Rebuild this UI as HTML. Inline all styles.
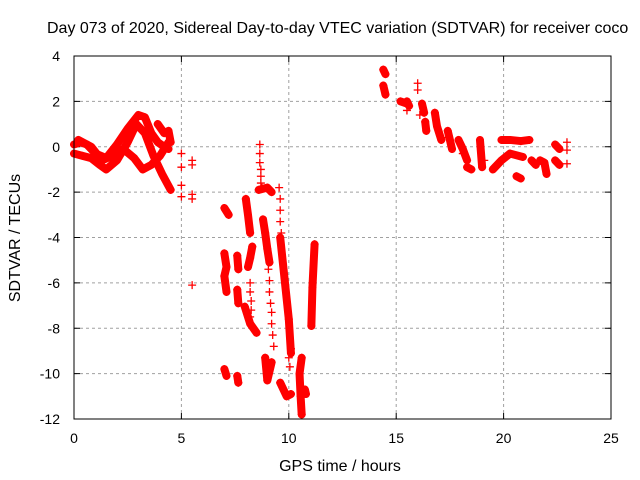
<!DOCTYPE html>
<html><head><meta charset="utf-8"><style>
body{margin:0;background:#fff}
svg{display:block;font-family:"Liberation Sans",sans-serif}
</style></head><body>
<svg id="chart" width="640" height="480">
<rect width="640" height="480" fill="#fff"/>
<text x="47" y="33" font-size="16" fill="#000">Day 073 of 2020, Sidereal Day-to-day VTEC variation (SDTVAR) for receiver coco</text>
<g id="grid"></g>
<g id="ticks"></g>
<g id="marks"></g>
<rect x="74" y="56" width="537" height="363" fill="none" stroke="#000"/>
<text x="340" y="471" font-size="16" text-anchor="middle">GPS time / hours</text>
<text transform="translate(20,238) rotate(-90)" font-size="16" text-anchor="middle">SDTVAR / TECUs</text>
</svg>
<script>
const xTicks=[0,5,10,15,20,25];
const yTicks=[4,2,0,-2,-4,-6,-8,-10,-12];
// dense tracks: hours / values
const denseHours=[
[0,0.3,0.6,1,1.5,2,2.5,3,3.3,3.6,3.9,4.2,4.4],
[0,0.4,0.8,1.2,1.5,2,2.5,2.9,3.3,3.7,4.1,4.5],
[0.2,0.8,1.3,1.8,2.3,2.8,3.2,3.6,4.0,4.4],
[3.9,4.2,4.4,4.5],
[7.0,7.2],[7.0,7.1,7.0,7.1],[7.0,7.1],[7.6,7.65],[7.6,7.65],[7.6,7.65],
[8.0,8.1,8.2],[8.3,8.2,8.1],[7.95,8.2,8.5],
[8.6,9.0,9.2],[8.8,8.9,9.0,9.1],[8.9,9.0,9.2],
[9.6,9.8,10.0,10.1],[9.6,9.9,10.1],[10.6,10.5,10.55,10.6],[10.75,10.8],[11.2,11.1,11.05],
[14.4,14.5],[14.4,14.5],[15.2,15.5],[15.5,15.6],[16.2,16.3],[16.35,16.4],[16.8,16.9,17.1],[17.4,17.6],
[17.9,18.1,18.3],[18.3,18.5],[18.9,19.0],[19.9,20.3,20.8,21.2],[19.5,19.9,20.3,20.9],[21.3,21.5],[21.7,21.9,22.0],[22.4,22.6],[22.4,22.6],[20.6,20.8]
];
const denseValues=[
[0.1,0.2,0.1,-0.3,-0.5,0.1,0.8,1.4,1.3,0.6,0.2,0.0,-0.1],
[-0.3,-0.4,-0.5,-0.8,-1.0,-0.6,0.2,1.0,0.6,-0.4,-1.2,-1.9],
[0.3,0.0,-0.6,-0.4,-0.1,-0.5,-1.0,-0.8,-0.4,0.2],
[1.0,0.6,0.7,0.2],
[-2.7,-3.0],[-4.7,-5.3,-5.7,-6.4],[-9.8,-10.1],[-4.8,-5.4],[-6.3,-6.9],[-10.1,-10.4],
[-2.3,-3.0,-3.8],[-4.4,-4.9,-5.3],[-7.05,-7.8,-8.2],
[-1.9,-1.8,-2.0],[-3.2,-3.8,-4.5,-5.1],[-9.3,-10.3,-9.5],
[-4.0,-5.8,-7.6,-9.1],[-10.4,-11.0,-10.9],[-9.3,-10.0,-11.0,-11.8],[-10.7,-10.9],[-4.3,-6.2,-7.9],
[3.4,3.2],[2.7,2.3],[2.0,1.9],[2.0,1.8],[1.9,1.5],[1.1,0.7],[1.5,0.9,0.3],[0.7,-0.1],
[0.3,-0.1,-0.6],[-0.9,-1.0],[0.3,-0.9],[0.3,0.3,0.25,0.3],[-1.0,-0.6,-0.3,-0.45],[-0.6,-0.8],[-0.6,-0.7,-1.2],[0.1,-0.1],[-0.6,-0.8],[-1.3,-1.4]
];
// sparse (individual + markers)
const sparseHours=[5,5,5,5,5.5,5.5,5.5,5.5,5.5,8.65,8.65,8.65,8.7,8.7,8.7,8.75,9.05,9.1,9.1,9.15,9.2,9.2,9.25,9.3,8.2,8.2,8.25,8.25,8.2,9.55,9.6,9.6,9.6,9.65,10.0,10.05,10.1,16.0,16.0,15.5,16.1,17.4,22.95,22.95,22.95,18.1,19.1];
const sparseValues=[-0.3,-0.9,-1.7,-2.2,-0.6,-0.8,-2.1,-2.3,-6.1,0.1,-0.3,-0.7,-1.0,-1.3,-1.6,-1.8,-5.4,-5.9,-6.4,-6.9,-7.3,-7.8,-8.3,-8.8,-6.0,-6.4,-6.8,-7.2,-7.5,-1.8,-2.3,-2.8,-3.3,-3.8,-9.3,-9.7,-8.9,2.8,2.5,1.6,1.4,0.4,0.2,-0.15,-0.75,-0.3,-0.6];

const X=h=>74+h*537/25, Y=v=>146.75-v*363/16;
const NS='http://www.w3.org/2000/svg';
const grid=document.getElementById('grid'),ticks=document.getElementById('ticks'),marks=document.getElementById('marks');
function mk(tag,attrs,parent){const e=document.createElementNS(NS,tag);for(const k in attrs)e.setAttribute(k,attrs[k]);parent.appendChild(e);return e;}
xTicks.forEach(t=>{
  if(t>0&&t<25){const g=mk('line',{x1:X(t),x2:X(t),y1:56,y2:419,stroke:'#a0a0a0','stroke-dasharray':'3,3'},grid);
  
  }
  mk('line',{x1:X(t),x2:X(t),y1:419,y2:413,stroke:'#000'},ticks);
  mk('line',{x1:X(t),x2:X(t),y1:56,y2:62,stroke:'#000'},ticks);
  const l=mk('text',{x:X(t),y:443,'font-size':14,'text-anchor':'middle'},ticks);l.textContent=t;
  
  
});
yTicks.forEach(t=>{
  if(t<4&&t>-12){const g=mk('line',{x1:74,x2:611,y1:Y(t),y2:Y(t),stroke:'#a0a0a0','stroke-dasharray':'3,3'},grid);
  
  }
  mk('line',{x1:74,x2:80,y1:Y(t),y2:Y(t),stroke:'#000'},ticks);
  mk('line',{x1:611,x2:605,y1:Y(t),y2:Y(t),stroke:'#000'},ticks);
  const l=mk('text',{x:60,y:Y(t)+5,'font-size':14,'text-anchor':'end'},ticks);l.textContent=t;
  
  
});
function plus(h,v){const x=X(h),y=Y(v);
  const p=mk('path',{d:`M${x-4},${y}H${x+4}M${x},${y-4}V${y+4}`,stroke:'#f00','stroke-width':1.3,fill:'none'},marks);
  
  }
denseHours.forEach((hs,i)=>{
  const pts=hs.map((h,j)=>X(h)+','+Y(denseValues[i][j])).join(' ');
  const pl=mk('polyline',{points:pts,fill:'none',stroke:'#f00','stroke-width':8,'stroke-linecap':'round','stroke-linejoin':'round'},marks);
  
  
  hs.forEach((h,j)=>plus(h,denseValues[i][j]));
});
sparseHours.forEach((h,i)=>plus(h,sparseValues[i]));
</script>
</body></html>
